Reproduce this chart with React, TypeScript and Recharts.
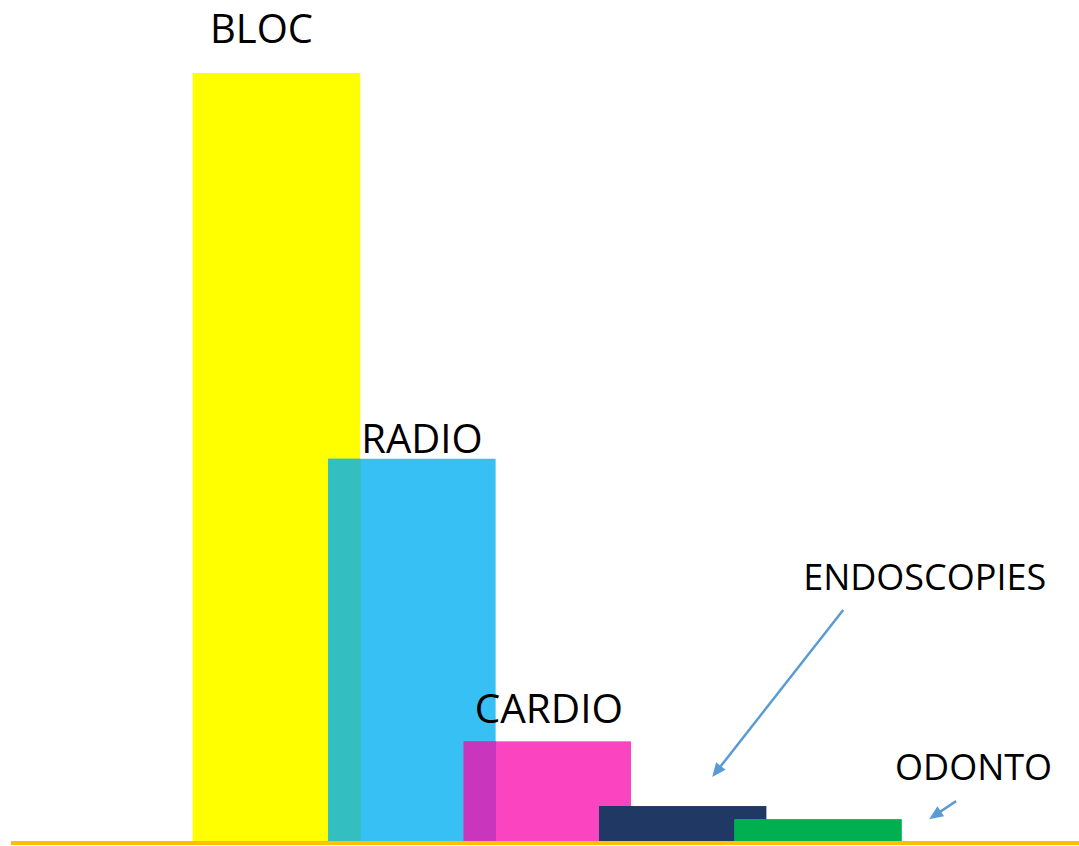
import { Bar, BarChart, LabelList, XAxis, YAxis } from "recharts";

const categories = ["BLOC", "RADIO", "CARDIO", "ENDOSCOPIES", "ODONTO"];
const values = [100, 49.9, 13.2, 4.8, 3.1];

const data = categories.map((name, i) => ({ name, value: values[i] }));

// bar colours, and the colour of the strip where a bar sits over its left neighbour
const barColors = ["#FFFF00", "#36C0F3", "#FB44BF", "#203864", "#00B050"];
const overlapColors = ["#FFFF00", "#33BFBF", "#C936BD", "#203864", "#00B050"];

// bars are wider than their category band, so neighbours overlap
const widen = 1.24;

// label placement relative to the bar's centre / top
const labelLayout = [
  { dx: -15, dy: -30, size: 40 },
  { dx: 10, dy: -6, size: 40 },
  { dx: 1.5, dy: -18, size: 40.5 },
  { dx: 242, dy: -216, size: 36, arrow: { x1: 160.5, y1: -196, x2: 29.5, y2: -29 } },
  { dx: 155.5, dy: -39, size: 36, arrow: { x1: 138, y1: -18, x2: 111, y2: 0 } }
];

const arrowColor = "#5B9BD5";

function WideBar(props: any) {
  const { x, y, width, height, index } = props;
  const w = width * widen;
  const left = x + width / 2 - w / 2;
  const strip = w - width;
  return (
    <g>
      <rect x={left} y={y} width={w} height={height} fill={barColors[index]} />
      <rect x={left} y={y} width={strip} height={height} fill={overlapColors[index]} />
    </g>
  );
}

function BarLabel(props: any) {
  const { x, y, width, value, index } = props;
  const layout = labelLayout[index];
  const cx = x + width / 2;
  let arrow = null;
  if (layout.arrow) {
    const a = layout.arrow;
    const x1 = cx + a.x1;
    const y1 = y + a.y1;
    const x2 = cx + a.x2;
    const y2 = y + a.y2;
    const len = Math.hypot(x2 - x1, y2 - y1);
    const ux = (x2 - x1) / len;
    const uy = (y2 - y1) / len;
    const head = 14;
    const half = 6;
    const bx = x2 - ux * head;
    const by = y2 - uy * head;
    arrow = (
      <g>
        <line x1={x1} y1={y1} x2={bx + ux * 2} y2={by + uy * 2} stroke={arrowColor} strokeWidth={2.5} />
        <polygon
          points={`${x2},${y2} ${bx - uy * half},${by + ux * half} ${bx + uy * half},${by - ux * half}`}
          fill={arrowColor}
        />
      </g>
    );
  }
  return (
    <g>
      <text
        x={cx + layout.dx}
        y={y + layout.dy}
        textAnchor="middle"
        fontFamily="'Open Sans', sans-serif"
        fontSize={layout.size}
        fill="#000000"
      >
        {value}
      </text>
      {arrow}
    </g>
  );
}

export default function App() {
  return (
    <div style={{ position: "absolute", left: 0, top: 0, width: 1079, height: 846, background: "#FFFFFF" }}>
      <BarChart
        width={1079}
        height={846}
        data={data}
        margin={{ top: 73, right: 0, bottom: 0, left: 11 }}
        barCategoryGap={0}
      >
        <XAxis
          dataKey="name"
          tick={false}
          tickLine={false}
          height={3}
          padding={{ left: 198, right: 193 }}
          axisLine={{ stroke: "#FFC000", strokeWidth: 4 }}
        />
        <YAxis hide domain={[0, 100]} />
        <Bar dataKey="value" shape={<WideBar />} isAnimationActive={false}>
          <LabelList dataKey="name" content={<BarLabel />} />
        </Bar>
      </BarChart>
    </div>
  );
}
